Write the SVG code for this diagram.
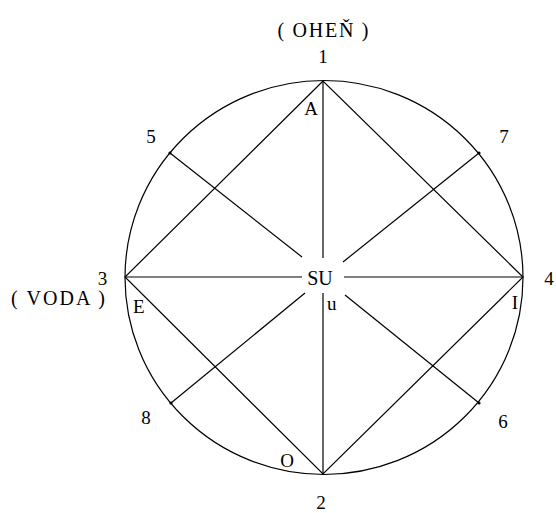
<svg xmlns="http://www.w3.org/2000/svg" width="556" height="513" viewBox="0 0 556 513">
<defs>
<style>
.ln{stroke:#000;stroke-width:1.2;fill:none}
text{font-family:"Liberation Serif","Times New Roman",serif;font-size:19px;fill:#000}
.m{text-anchor:middle}
.big{font-size:20px}
</style>
<marker id="dot" markerWidth="4" markerHeight="4" refX="2" refY="2" markerUnits="userSpaceOnUse"><circle cx="2" cy="2" r="1.6" fill="#000"/></marker>
</defs>
<rect width="556" height="513" fill="#fff"/>
<g id="circle"><ellipse class="ln" cx="324" cy="277.5" rx="199" ry="197"/></g>
<g id="connectors">
<polygon class="ln" points="323,81 125,277 323,474 523,277"/>
<line class="ln" x1="323" y1="81" x2="323" y2="258"/>
<line class="ln" x1="323" y1="293" x2="323" y2="474"/>
<line class="ln" x1="125" y1="277" x2="302" y2="277"/>
<line class="ln" x1="344" y1="277" x2="523" y2="277"/>
<line class="ln" x1="302" y1="257" x2="170" y2="153" marker-end="url(#dot)"/>
<line class="ln" x1="343" y1="262" x2="479" y2="153" marker-end="url(#dot)"/>
<line class="ln" x1="305" y1="293" x2="171" y2="403" marker-end="url(#dot)"/>
<line class="ln" x1="345" y1="295" x2="479" y2="403" marker-end="url(#dot)"/>
</g>
<g id="n1"><text class="m big" x="323" y="37" textLength="91" lengthAdjust="spacing">( OHEŇ )</text><text class="m" x="323" y="63">1</text><text class="m" x="311" y="115">A</text></g>
<g id="n2"><text class="m" x="321" y="509">2</text><text class="m" x="287" y="467">O</text></g>
<g id="n3"><text class="m" x="102.5" y="285">3</text><text class="big" x="11" y="305" textLength="94" lengthAdjust="spacing">( VODA )</text><text x="133" y="313">E</text></g>
<g id="n4"><text class="m" x="549" y="285">4</text><text class="m" x="515" y="309">I</text></g>
<g id="n5"><text class="m" x="151" y="143">5</text></g>
<g id="n6"><text class="m" x="503" y="428">6</text></g>
<g id="n7"><text class="m" x="504" y="143">7</text></g>
<g id="n8"><text class="m" x="146" y="424">8</text></g>
<g id="center"><text class="m big" x="320" y="285">SU</text><text x="327" y="310">u</text></g>
</svg>
